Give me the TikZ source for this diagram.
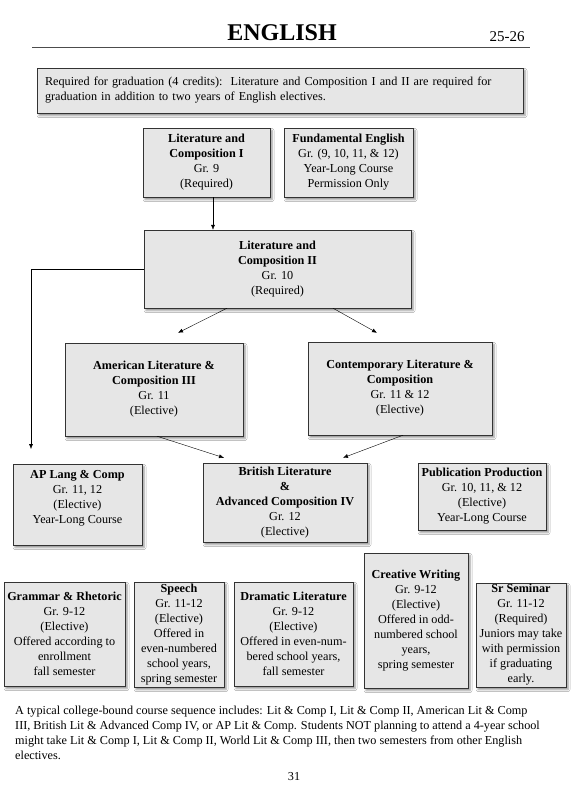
\documentclass[tikz,border=0pt]{standalone}
\usepackage{fontspec}
\setmainfont{Liberation Serif}
\usetikzlibrary{arrows.meta}
\usetikzlibrary{calc}
\usetikzlibrary{shadows.blur}

\definecolor{boxgray}{HTML}{E6E6E6}

\begin{document}
\begin{tikzpicture}[x=1pt,y=-1pt,>/.tip={Latex[length=5pt,width=4pt]},
	course/.style={draw=black!80,fill=boxgray,align=center,inner sep=1pt,
		font=\fontsize{12.2}{15}\selectfont,
		blur shadow={shadow xshift=2pt,shadow yshift=-2.5pt,shadow blur radius=2pt,shadow opacity=45}}]
	\useasboundingbox (0,0) rectangle (588,790);
	\fill[white] (0,0) rectangle (588,790);
	% heading
	\node (title) at (282,32.5) {\fontsize{24}{28}\selectfont\bfseries ENGLISH};
	\node (year) at (507,37) {\fontsize{15}{18}\selectfont 25-26};
	\draw[black!70,line width=0.8pt] (32,47) -- (530,47);
	\node (req) at (280,90.5) [course,align=left,minimum width=486,minimum height=45,text width=470] {Required for graduation (4 credits):\ \ Literature and Composition I and II are required for\\graduation in addition to two years of English electives.};
	% required courses
	\node (LC1) at (206.5,162.5) [course,minimum width=127,minimum height=69] {\textbf{Literature and}\\\textbf{Composition I}\\Gr. 9\\(Required)};
	\node (FE) at (348.5,162.5) [course,minimum width=129,minimum height=69] {\textbf{Fundamental English}\\Gr. (9, 10, 11, \& 12)\\Year-Long Course\\Permission Only};
	\node (LC2) at (277.5,269) [course,minimum width=267,minimum height=78] {\textbf{Literature and}\\\textbf{Composition II}\\Gr. 10\\(Required)};
	% grade 11
	\node (AL3) at (154,389.5) [course,minimum width=178,minimum height=93] {\textbf{American Literature \&}\\\textbf{Composition III}\\Gr. 11\\(Elective)};
	\node (CL) at (400,388.5) [course,minimum width=184,minimum height=93] {\textbf{Contemporary Literature \&}\\\textbf{Composition}\\Gr. 11 \& 12\\(Elective)};
	% grade 12
	\node (AP) at (77.5,504.5) [course,minimum width=129,minimum height=81] {\textbf{AP Lang \& Comp}\\Gr. 11, 12\\(Elective)\\Year-Long Course\\\mbox{}};
	\node (BL4) at (285,502.5) [course,minimum width=164,minimum height=79] {\textbf{British Literature}\\\textbf{\&}\\\textbf{Advanced Composition IV}\\Gr. 12\\(Elective)};
	\node (PP) at (482,496.5) [course,minimum width=128,minimum height=67] {\textbf{Publication Production}\\Gr. 10, 11, \& 12\\(Elective)\\Year-Long Course};
	% electives
	\node (GR) at (64.5,634) [course,minimum width=121,minimum height=104] {\textbf{Grammar \& Rhetoric}\\Gr. 9-12\\(Elective)\\Offered according to\\enrollment\\fall semester};
	\node (SP) at (179,634.5) [course,minimum width=90,minimum height=105] {\textbf{Speech}\\Gr. 11-12\\(Elective)\\Offered in\\even-numbered\\school years,\\spring semester};
	\node (DL) at (293.5,634) [course,minimum width=119,minimum height=104] {\textbf{Dramatic Literature}\\Gr. 9-12\\(Elective)\\Offered in even-num-\\bered school years,\\fall semester};
	\node (CW) at (416,620.5) [course,minimum width=104,minimum height=135] {\textbf{Creative Writing}\\Gr. 9-12\\(Elective)\\Offered in odd-\\numbered school\\years,\\spring semester};
	\node (SS) at (521,635) [course,minimum width=90,minimum height=104] {\textbf{Sr Seminar}\\Gr. 11-12\\(Required)\\Juniors may take\\with permission\\if graduating\\early.};
	% connectors
	\coordinate (APin) at (31,449);
	\draw[->] ($(LC1.south)+(6.5,0)$) -- ($(LC2.north)+(-64.5,0)$);
	\draw[->] (LC2.west) -| (APin);
	\draw[->] ($(LC2.south)+(-50.5,0)$) -- ($(AL3.north)+(24,-10)$);
	\draw[->] ($(LC2.south)+(55.5,0)$) -- ($(CL.north)+(-23,-9)$);
	\draw[->] ($(AL3.south)+(3,0)$) -- ($(BL4.north)+(-61,-5)$);
	\draw[->] ($(CL.south)+(3,0)$) -- ($(BL4.north)+(58,-5)$);
	% footer
	\node (note) at (15,706) [anchor=north west,inner sep=0pt,align=left,font=\fontsize{12.2}{15}\selectfont] {A typical college-bound course sequence includes: Lit \& Comp I, Lit \& Comp II, American Lit \& Comp\\III, British Lit \& Advanced Comp IV, or AP Lit \& Comp. Students NOT planning to attend a 4-year school\\might take Lit \& Comp I, Lit \& Comp II, World Lit \& Comp III, then two semesters from other English\\electives.};
	\node (page) at (294,777) {\fontsize{12.2}{15}\selectfont 31};
\end{tikzpicture}
\end{document}
